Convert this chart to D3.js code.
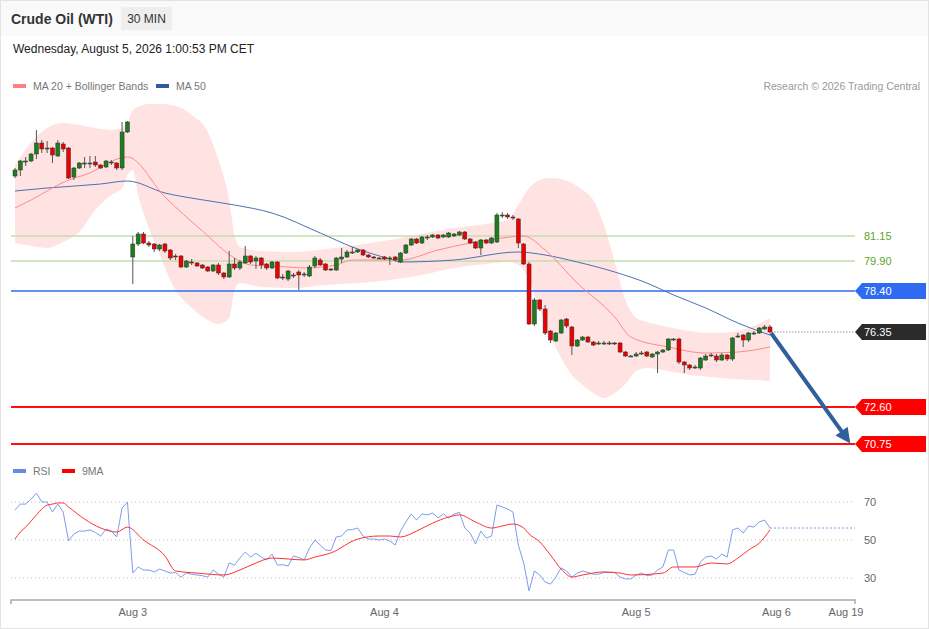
<!DOCTYPE html>
<html>
<head>
<meta charset="utf-8">
<script src="https://cdn.jsdelivr.net/npm/d3@7"></script>
<style>
  html, body { margin: 0; padding: 0; background: #fff; }
  svg { display: block; font-family: 'Liberation Sans', Arial, sans-serif; }
</style>
</head>
<body>
<svg id="chart" width="929" height="629"></svg>
<script>
// ---- data (30 min bars, index 0 = first bar) ----
const candleOpen = [
  84.15, 84.45, 84.85, 84.90, 85.25, 85.80, 85.50, 85.55, 85.15, 85.75,
  85.55, 84.10, 84.55, 84.75, 84.75, 84.85, 84.70, 84.60, 84.80, 84.80,
  84.55, 86.35, 80.10, 80.75, 81.25, 80.80, 80.75, 80.50, 80.75, 80.45,
  80.15, 80.15, 79.60, 79.85, 79.80, 79.70, 79.60, 79.40, 79.70, 79.30,
  79.10, 79.75, 79.55, 79.80, 80.15, 79.90, 80.05, 79.75, 79.55, 79.85,
  79.10, 79.00, 79.20, 79.35, 79.20, 79.15, 79.65, 79.95, 79.75, 79.50,
  79.45, 80.00, 80.10, 80.35, 80.35, 80.45, 80.20, 80.10, 80.05, 80.10,
  80.05, 80.10, 79.85, 80.30, 80.70, 81.00, 80.80, 81.10, 81.10, 81.20,
  81.10, 81.10, 81.15, 81.20, 81.35, 81.00, 80.85, 80.55, 80.95, 80.80,
  80.85, 82.20, 82.20, 82.10, 82.00, 80.75, 79.75, 76.75, 77.95, 77.50,
  76.40, 75.90, 76.30, 77.00, 76.60, 75.65, 75.95, 76.10, 75.85, 75.80,
  75.80, 75.80, 75.80, 75.80, 75.35, 75.15, 75.15, 75.25, 75.35, 75.10,
  75.25, 75.35, 75.45, 76.00, 76.00, 74.85, 74.70, 74.55, 74.55, 74.95,
  75.20, 75.15, 74.95, 75.20, 75.00, 76.15, 76.20, 75.95, 76.30, 76.30,
  76.50, 76.60
]
const candleHigh = [
  84.55, 84.95, 85.10, 85.30, 86.45, 85.95, 85.90, 85.60, 85.95, 85.85,
  85.60, 84.60, 84.85, 85.10, 85.15, 85.15, 84.75, 84.95, 84.95, 84.85,
  86.85, 86.90, 81.15, 81.35, 81.35, 80.90, 80.80, 80.75, 80.80, 80.50,
  80.25, 80.20, 79.95, 80.00, 79.85, 79.75, 79.65, 79.75, 79.80, 79.35,
  80.40, 80.05, 79.95, 80.65, 80.20, 80.15, 80.10, 79.80, 79.90, 79.90,
  79.25, 79.45, 79.30, 79.45, 79.35, 79.70, 80.15, 80.05, 79.80, 79.55,
  80.10, 80.55, 80.45, 80.60, 80.50, 80.50, 80.25, 80.15, 80.10, 80.15,
  80.15, 80.15, 80.35, 80.75, 81.05, 81.05, 81.15, 81.20, 81.25, 81.25,
  81.25, 81.35, 81.30, 81.40, 81.40, 81.05, 80.90, 81.00, 81.00, 81.10,
  82.30, 82.35, 82.30, 82.20, 82.05, 80.80, 79.85, 78.05, 78.00, 77.70,
  76.45, 76.35, 77.00, 77.05, 76.65, 76.00, 76.15, 76.15, 75.90, 75.90,
  75.90, 75.90, 75.85, 75.85, 75.40, 75.20, 75.35, 75.40, 75.40, 75.30,
  75.40, 75.50, 76.05, 76.05, 76.05, 74.90, 74.75, 74.70, 75.10, 75.25,
  75.30, 75.25, 75.30, 75.25, 76.10, 76.30, 76.25, 76.35, 76.40, 76.60,
  76.70, 76.70
]
const candleLow = [
  84.05, 84.15, 84.65, 84.85, 85.00, 85.30, 85.30, 84.80, 85.10, 85.35,
  84.00, 83.95, 84.50, 84.55, 84.55, 84.60, 84.50, 84.55, 84.70, 84.45,
  84.45, 86.30, 78.75, 80.65, 80.75, 80.60, 80.35, 80.40, 80.30, 79.95,
  79.95, 79.55, 79.55, 79.70, 79.60, 79.50, 79.35, 79.35, 79.20, 79.00,
  79.05, 79.45, 79.45, 79.75, 79.75, 79.50, 79.50, 79.45, 79.50, 79.00,
  78.95, 78.90, 79.05, 78.45, 79.10, 79.10, 79.55, 79.65, 79.40, 79.40,
  79.40, 79.80, 80.05, 80.25, 80.30, 80.15, 80.05, 80.00, 80.00, 79.95,
  79.70, 79.90, 79.80, 80.25, 80.65, 80.75, 80.75, 80.95, 81.05, 81.00,
  81.05, 81.05, 81.10, 81.15, 80.95, 80.75, 80.50, 80.20, 80.75, 80.75,
  80.80, 82.05, 82.00, 81.95, 80.55, 79.70, 76.70, 76.65, 77.40, 76.20,
  75.80, 75.85, 76.25, 76.55, 75.20, 75.60, 75.90, 75.80, 75.65, 75.70,
  75.70, 75.70, 75.70, 75.30, 75.10, 75.10, 75.10, 75.20, 75.10, 75.05,
  74.30, 75.30, 75.40, 75.90, 74.75, 74.30, 74.45, 74.50, 74.45, 74.90,
  75.10, 74.85, 74.90, 74.90, 74.90, 76.05, 75.60, 75.85, 76.20, 76.25,
  76.45, 76.30
]
const candleClose = [
  84.45, 84.90, 84.90, 85.25, 85.80, 85.50, 85.55, 85.20, 85.80, 85.50,
  84.05, 84.55, 84.80, 84.80, 84.80, 84.70, 84.55, 84.90, 84.85, 84.55,
  86.35, 86.85, 80.75, 81.25, 80.80, 80.70, 80.50, 80.70, 80.40, 80.05,
  80.10, 79.60, 79.90, 79.80, 79.65, 79.55, 79.40, 79.70, 79.30, 79.10,
  79.75, 79.55, 79.85, 80.15, 79.85, 80.05, 79.70, 79.55, 79.85, 79.05,
  79.05, 79.40, 79.15, 79.20, 79.25, 79.60, 80.05, 79.70, 79.45, 79.45,
  80.05, 80.10, 80.35, 80.35, 80.45, 80.20, 80.10, 80.05, 80.05, 80.00,
  80.05, 79.95, 80.30, 80.70, 81.00, 80.80, 81.10, 81.10, 81.20, 81.05,
  81.20, 81.30, 81.25, 81.35, 81.00, 80.80, 80.55, 80.95, 80.80, 81.05,
  82.20, 82.20, 82.10, 82.05, 80.80, 79.75, 76.75, 77.95, 77.50, 76.30,
  75.95, 76.30, 76.95, 76.65, 75.65, 75.95, 76.10, 75.85, 75.70, 75.80,
  75.80, 75.80, 75.75, 75.35, 75.15, 75.15, 75.25, 75.30, 75.15, 75.25,
  75.35, 75.45, 76.00, 76.00, 74.85, 74.70, 74.55, 74.60, 75.05, 75.15,
  75.20, 74.95, 75.20, 75.00, 76.05, 76.15, 75.95, 76.30, 76.30, 76.55,
  76.60, 76.35
]

// moving averages, read at sample bars
const ma50Idx = [0, 6, 16, 21, 28, 34, 41, 48, 57, 63, 70, 72, 82, 94, 99, 105, 112, 118, 123, 129, 135, 141]
const ma50Val = [83.40, 83.55, 83.75, 83.90, 83.30, 83.00, 82.70, 82.30, 81.30, 80.60, 80.00, 79.85, 79.95, 80.35, 80.20, 79.85, 79.35, 78.80, 78.20, 77.55, 76.80, 76.20]

const ma20Idx = [0, 3, 10, 13, 21, 28, 35, 41, 44, 51, 54, 60, 63, 72, 79, 85, 91, 95, 99, 105, 112, 115, 122, 129, 135, 141]
const ma20Val = [82.55, 82.95, 83.95, 84.20, 85.10, 83.10, 81.40, 80.05, 79.70, 79.60, 79.55, 79.70, 79.95, 79.95, 80.45, 80.80, 81.05, 81.15, 80.45, 78.80, 77.10, 76.10, 75.60, 75.30, 75.35, 75.60]

const bbIdx = [0, 3, 6, 9, 12, 15, 18, 20, 21, 22, 23, 25, 27, 30, 33, 36, 38, 40, 41, 42, 46, 52, 58, 64, 70, 76, 82, 88, 92, 94, 96, 98, 100, 102, 104, 106, 108, 110, 112, 114, 116, 118, 122, 126, 130, 134, 138, 141]
const bbUpper = [84.70, 85.80, 86.55, 86.80, 86.70, 86.55, 86.45, 86.55, 86.85, 87.45, 87.60, 87.75, 87.75, 87.65, 87.20, 86.35, 84.95, 82.95, 81.20, 80.60, 80.40, 80.35, 80.50, 80.70, 80.95, 81.25, 81.55, 81.75, 81.95, 82.70, 83.55, 83.95, 84.05, 84.00, 83.80, 83.45, 82.95, 81.70, 79.85, 77.95, 77.05, 76.85, 76.60, 76.40, 76.30, 76.35, 76.65, 77.05]
const bbLower = [80.80, 80.65, 80.55, 80.85, 81.35, 82.45, 83.20, 83.55, 84.20, 84.45, 83.20, 81.55, 80.20, 78.45, 77.55, 76.95, 76.75, 77.05, 78.45, 78.80, 78.60, 78.55, 78.70, 78.80, 78.95, 79.20, 79.55, 79.75, 79.85, 79.70, 78.95, 77.45, 76.20, 75.05, 74.20, 73.70, 73.30, 73.05, 73.30, 73.75, 74.40, 74.55, 74.40, 74.20, 74.10, 74.00, 73.95, 73.90]

// RSI per bar and its 9MA at sample bars
const rsiVal = [
  65.8, 68.9, 68.9, 71.5, 74.7, 70, 70, 64.7, 68.9, 64.7,
  49.5, 53.2, 54.7, 54.7, 55.3, 54, 52, 55.8, 54.7, 51.6,
  66.8, 70, 32.6, 35.8, 34.2, 34.2, 33.2, 34.7, 33.7, 32.6,
  32.9, 30.5, 32.6, 32, 31.6, 31.2, 30.5, 34.2, 32, 30.5,
  37.9, 36.8, 40.5, 43.7, 41, 43, 41, 39.5, 42.6, 36.8,
  37, 36.3, 41.6, 40.8, 39.5, 45.8, 50, 47.4, 44.7, 44.5,
  51.6, 52.1, 55.3, 55.5, 56.3, 52.1, 50.5, 50.5, 50, 50.5,
  49.5, 47.4, 54.7, 59.5, 63.7, 60.5, 63.7, 63.2, 64.2, 61.6,
  63.7, 61.6, 63.7, 64.5, 56.3, 53.7, 47.9, 54.7, 51, 52.1,
  68.4, 67.4, 66.3, 64.7, 47.4, 37.9, 23.2, 33.7, 31.6, 27.9,
  26.8, 30.5, 35.3, 33.7, 30.5, 32.6, 33.7, 32.9, 32, 32,
  32.9, 32.9, 32.9, 30.5, 29.5, 29.5, 31.6, 32.6, 31.2, 31.6,
  34.2, 35.8, 44.7, 44.7, 34.2, 32.9, 31.6, 32, 38.4, 41,
  41.6, 40, 42.6, 41, 55.3, 56.3, 53.7, 57.4, 56.8, 59.5,
  60.5, 56.3
]
const rsiMaIdx = [0, 1, 2, 4, 5, 6, 7, 8, 9, 10, 13, 16, 19, 21, 24, 28, 30, 34, 39, 42, 45, 48, 51, 54, 56, 59, 64, 68, 70, 72, 75, 78, 81, 83, 86, 89, 91, 93, 95, 96, 98, 100, 102, 104, 106, 110, 113, 115, 121, 123, 127, 130, 133, 135, 137, 139, 141]
const rsiMaVal = [50.5, 54.2, 56.8, 63.2, 66.3, 68.4, 68.9, 69.5, 69.5, 67.4, 61, 56.3, 54.2, 56.8, 50, 41.6, 33.7, 32.6, 31.6, 34.2, 37.9, 40.5, 40, 39.5, 41, 43.2, 50.5, 52.1, 52.1, 51.6, 54.7, 58.9, 62.1, 63.2, 59.5, 56.3, 57.4, 58.4, 56.3, 53.2, 49, 42.1, 34.7, 30.5, 31.6, 33.2, 32.6, 31.6, 32.6, 35.8, 35.8, 37.9, 37.4, 40.5, 44.7, 48.4, 55.3]
const rsiLevels = [70, 50, 30]

// key levels
const levelValues = [81.15, 79.90, 78.40, 76.35, 72.60, 70.75]
const levelKinds = ['pivot', 'pivot', 'resist', 'last', 'target', 'target']

// arrow (bar index, price)
const arrowFrom = [141.2, 76.30]
const arrowTo = [156.0, 70.78]

// x axis ticks (bar index position, label)
const tickIdx = [22, 69, 116, 142.2, 155.2]
const tickLabels = ['Aug 3', 'Aug 4', 'Aug 5', 'Aug 6', 'Aug 19']

// ---- layout ----
const W = 929
const H = 629
const plotLeft = 11
const plotRight = 855

const svg = d3.select('#chart')

const x = d3.scaleLinear().domain([0, 141]).range([15, 770])
const y = d3.scaleLinear().domain([70.75, 81.15]).range([444, 236])
const yRsi = d3.scaleLinear().domain([30, 70]).range([578, 502])

// frame + header
svg.append('rect').attr('x', 0.5).attr('y', 0.5).attr('width', W - 1).attr('height', H - 1)
  .attr('fill', '#fff').attr('stroke', '#e3e3e3')
svg.append('rect').attr('x', 1).attr('y', 1).attr('width', W - 2).attr('height', 35).attr('fill', '#f9f9f9')

svg.append('text').attr('x', 11).attr('y', 24)
  .attr('font-size', 14).attr('font-weight', 'bold').attr('fill', '#333')
  .text('Crude Oil (WTI)')
svg.append('rect').attr('x', 121).attr('y', 7).attr('width', 51).attr('height', 23).attr('fill', '#eeeeee')
svg.append('text').attr('x', 146.5).attr('y', 23).attr('text-anchor', 'middle')
  .attr('font-size', 12).attr('fill', '#333').text('30 MIN')
svg.append('text').attr('x', 13).attr('y', 53)
  .attr('font-size', 12).attr('fill', '#222')
  .text('Wednesday, August 5, 2026 1:00:53 PM CET')

// legend
const legend = [
  { x: 13, color: '#ff8080', label: 'MA 20 + Bollinger Bands' },
  { x: 156, color: '#2f5c9f', label: 'MA 50' }
]
legend.forEach(d => {
  svg.append('rect').attr('x', d.x).attr('y', 84).attr('width', 13).attr('height', 4).attr('fill', d.color)
  svg.append('text').attr('x', d.x + 20).attr('y', 90).attr('font-size', 10.5).attr('fill', '#777').text(d.label)
})
svg.append('text').attr('x', 920).attr('y', 90).attr('text-anchor', 'end')
  .attr('font-size', 10.5).attr('fill', '#999').text('Research \u00a9 2026 Trading Central')

// bollinger band
const bbData = bbIdx.map((i, k) => ({ i: i, hi: bbUpper[k], lo: bbLower[k] }))
svg.append('path')
  .datum(bbData)
  .attr('fill', '#ffe2e2')
  .attr('d', d3.area().curve(d3.curveMonotoneX)
    .x(d => x(d.i)).y0(d => y(d.lo)).y1(d => y(d.hi)))

// level lines
const levels = levelValues.map((v, k) => ({ v: v, kind: levelKinds[k] }))
const lineStyle = {
  pivot: { stroke: '#c3dfac', width: 1.5 },
  resist: { stroke: '#2f6bf0', width: 1.5 },
  target: { stroke: '#ff1010', width: 2 }
}
levels.filter(d => d.kind !== 'last').forEach(d => {
  svg.append('line')
    .attr('x1', plotLeft).attr('x2', plotRight)
    .attr('y1', y(d.v)).attr('y2', y(d.v))
    .attr('stroke', lineStyle[d.kind].stroke)
    .attr('stroke-width', lineStyle[d.kind].width)
})

// moving averages
const maLine = d3.line().curve(d3.curveMonotoneX).x(d => x(d[0])).y(d => y(d[1]))
svg.append('path')
  .datum(ma50Idx.map((i, k) => [i, ma50Val[k]]))
  .attr('fill', 'none').attr('stroke', '#4a72b0').attr('stroke-width', 1)
  .attr('d', maLine)
svg.append('path')
  .datum(ma20Idx.map((i, k) => [i, ma20Val[k]]))
  .attr('fill', 'none').attr('stroke', '#ff8a8a').attr('stroke-width', 1)
  .attr('d', maLine)

// candles
const candles = candleOpen.map((o, i) => ({
  i: i, o: o, h: candleHigh[i], l: candleLow[i], c: candleClose[i]
}))
const cg = svg.append('g')
cg.selectAll('.wick')
  .data(candles)
  .enter()
  .append('line')
  .attr('class', 'wick')
  .attr('x1', d => x(d.i)).attr('x2', d => x(d.i))
  .attr('y1', d => y(d.h)).attr('y2', d => y(d.l))
  .attr('stroke', '#555').attr('stroke-width', 1)
cg.selectAll('.body')
  .data(candles)
  .enter()
  .append('rect')
  .attr('class', 'body')
  .attr('x', d => x(d.i) - 2)
  .attr('width', 4)
  .attr('y', d => y(Math.max(d.o, d.c)))
  .attr('height', d => Math.max(1, Math.abs(y(d.o) - y(d.c))))
  .attr('fill', d => d.c >= d.o ? '#1d7d1d' : '#ee0000')
  .attr('stroke', '#333').attr('stroke-width', 0.5)

// last price dotted line
const lastLevel = levels.find(d => d.kind === 'last')
svg.append('line')
  .attr('x1', x(141) + 4).attr('x2', plotRight)
  .attr('y1', y(lastLevel.v)).attr('y2', y(lastLevel.v))
  .attr('stroke', '#999').attr('stroke-width', 1).attr('stroke-dasharray', '1.5,1.5')

// arrow: shaft stops at the base of the head, head tip on the target
const ax1 = x(arrowFrom[0])
const ay1 = y(arrowFrom[1])
const ax2 = x(arrowTo[0])
const ay2 = y(arrowTo[1])
const ang = Math.atan2(ay2 - ay1, ax2 - ax1)
const headLen = 15
const headHalf = 7.5
const bx = ax2 - headLen * Math.cos(ang)
const by = ay2 - headLen * Math.sin(ang)
svg.append('line')
  .attr('x1', ax1).attr('y1', ay1)
  .attr('x2', bx + 2 * Math.cos(ang)).attr('y2', by + 2 * Math.sin(ang))
  .attr('stroke', '#2f5f9c').attr('stroke-width', 4)
svg.append('path')
  .attr('d', d3.line()([
    [ax2, ay2],
    [bx - headHalf * Math.sin(ang), by + headHalf * Math.cos(ang)],
    [bx + headHalf * Math.sin(ang), by - headHalf * Math.cos(ang)]
  ]) + 'Z')
  .attr('fill', '#2f5f9c')

// level labels / tags
const tagFill = { resist: '#2f6bf0', last: '#2b2b2b', target: '#ff0000' }
levels.forEach(d => {
  const yy = y(d.v)
  if (d.kind === 'pivot') {
    svg.append('text').attr('x', 864).attr('y', yy + 4)
      .attr('font-size', 11).attr('fill', '#5ca62a').text(d.v.toFixed(2))
  } else {
    svg.append('path')
      .attr('d', `M${plotRight},${yy} L${plotRight + 7},${yy - 8} L926,${yy - 8} L926,${yy + 8} L${plotRight + 7},${yy + 8} Z`)
      .attr('fill', tagFill[d.kind])
    svg.append('text').attr('x', 864).attr('y', yy + 4)
      .attr('font-size', 11).attr('fill', '#fff').text(d.v.toFixed(2))
  }
})

// ---- RSI panel ----
const rsiLegend = [
  { x: 13, color: '#6688e6', label: 'RSI' },
  { x: 62, color: '#ff0000', label: '9MA' }
]
rsiLegend.forEach(d => {
  svg.append('rect').attr('x', d.x).attr('y', 469).attr('width', 13).attr('height', 4).attr('fill', d.color)
  svg.append('text').attr('x', d.x + 20).attr('y', 475).attr('font-size', 10.5).attr('fill', '#777').text(d.label)
})

rsiLevels.forEach(v => {
  svg.append('line')
    .attr('x1', plotLeft).attr('x2', plotRight)
    .attr('y1', yRsi(v)).attr('y2', yRsi(v))
    .attr('stroke', '#bbb').attr('stroke-width', 1).attr('stroke-dasharray', '1,3')
  svg.append('text').attr('x', 864).attr('y', yRsi(v) + 4)
    .attr('font-size', 11).attr('fill', '#666').text(v)
})

const rsiLine = d3.line().x(d => x(d[0])).y(d => yRsi(d[1]))
svg.append('path')
  .datum(rsiVal.map((v, i) => [i, v]))
  .attr('fill', 'none').attr('stroke', '#7d9ceb').attr('stroke-width', 1)
  .attr('d', rsiLine)
svg.append('line')
  .attr('x1', x(rsiVal.length - 1)).attr('x2', plotRight)
  .attr('y1', yRsi(rsiVal[rsiVal.length - 1])).attr('y2', yRsi(rsiVal[rsiVal.length - 1]))
  .attr('stroke', '#7d9ceb').attr('stroke-width', 1).attr('stroke-dasharray', '2,2')
svg.append('path')
  .datum(rsiMaIdx.map((i, k) => [i, rsiMaVal[k]]))
  .attr('fill', 'none').attr('stroke', '#ff3030').attr('stroke-width', 1)
  .attr('d', d3.line().curve(d3.curveMonotoneX).x(d => x(d[0])).y(d => yRsi(d[1])))

// x axis
const axisY = 600
svg.append('path')
  .attr('d', `M${plotLeft},${axisY + 4} V${axisY} H${plotRight} V${axisY + 4}`)
  .attr('fill', 'none').attr('stroke', '#aaa').attr('stroke-width', 1.5)
svg.selectAll('.xtick')
  .data(tickIdx)
  .enter()
  .append('text')
  .attr('class', 'xtick')
  .attr('x', d => x(d))
  .attr('y', 616)
  .attr('text-anchor', 'middle')
  .attr('font-size', 11)
  .attr('fill', '#666')
  .text((d, k) => tickLabels[k])
</script>
</body>
</html>
